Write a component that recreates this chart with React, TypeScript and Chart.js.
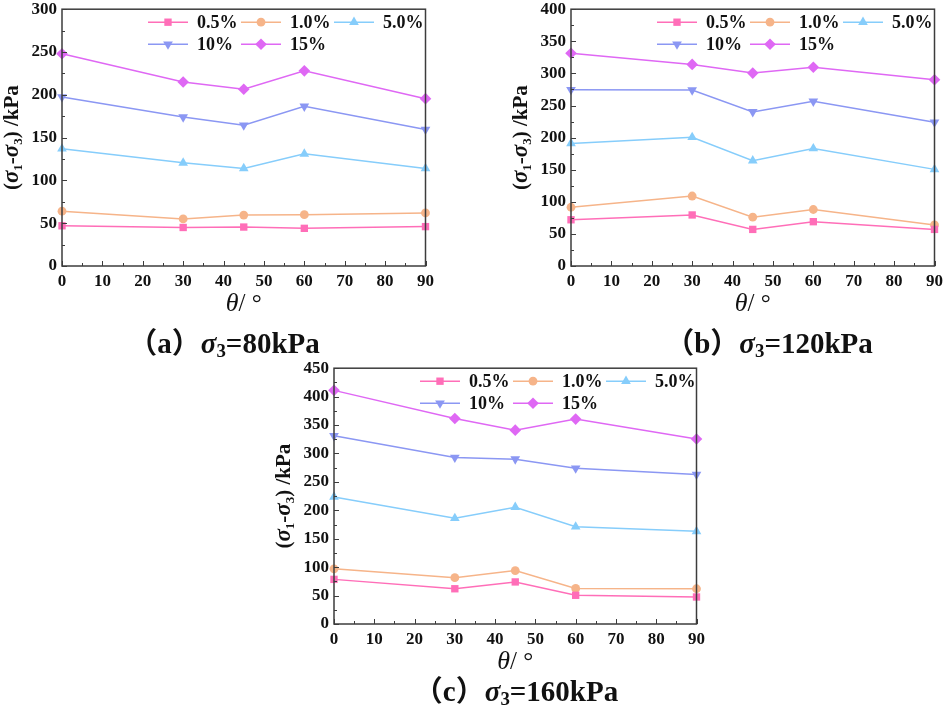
import { useEffect, useRef } from "react"
import { Chart, registerables } from "chart.js"

Chart.register(...registerables)

const FONT = '"Liberation Serif", "Times New Roman", serif'

// loading angle (x axis) and axial strain levels (series)
const theta = [0, 30, 45, 60, 90]
const strainLabels = ["0.5%", "1.0%", "5.0%", "10%", "15%"]

// (a) sigma3 = 80 kPa
const s80_05 = [47, 45, 45.5, 44, 46]
const s80_10 = [64, 55, 59.5, 60, 62]
const s80_50 = [137, 120.5, 114, 131, 114]
const s80_100 = [197.5, 174, 164.5, 186.5, 159.5]
const s80_150 = [248, 215, 206.5, 228, 195.5]

// (b) sigma3 = 120 kPa
const s120_05 = [72, 79.5, 57, 69, 57]
const s120_10 = [91.5, 109, 76, 88, 64]
const s120_50 = [191, 200.5, 164, 183, 150.5]
const s120_100 = [274.5, 274, 240, 256.5, 224]
const s120_150 = [331.5, 314, 300.5, 309.5, 290]

// (c) sigma3 = 160 kPa
const s160_05 = [78.5, 62, 74, 50.5, 47.5]
const s160_10 = [97, 81.5, 94, 62.5, 62]
const s160_50 = [223.5, 186, 205.5, 171, 163]
const s160_100 = [331, 293, 290, 274, 263]
const s160_150 = [411, 361.5, 341, 360.5, 325.5]

const xTicks = [0, 10, 20, 30, 40, 50, 60, 70, 80, 90]

const colors = ["#ff6eb8", "#f6b489", "#86cdfb", "#8b97f3", "#df68f4"]
const pointStyles = ["rect", "circle", "triangle", "triangle", "rectRot"]
const pointRotations = [0, 0, 0, 180, 0]
const pointRadii = [5.2, 4.4, 5.6, 5.6, 5.8]

type Panel = {
  letter: string
  sigma: string
  yMax: number
  series: number[][]
  plot: { left: number; top: number; right: number; bottom: number }
  caption: { x: number; y: number }
}

const panels: Panel[] = [
  {
    letter: "a",
    sigma: "80",
    yMax: 300,
    series: [s80_05, s80_10, s80_50, s80_100, s80_150],
    plot: { left: 62, top: 8, right: 429, bottom: 266 },
    caption: { x: 224, y: 345 },
  },
  {
    letter: "b",
    sigma: "120",
    yMax: 400,
    series: [s120_05, s120_10, s120_50, s120_100, s120_150],
    plot: { left: 571, top: 8, right: 938, bottom: 266 },
    caption: { x: 769, y: 345 },
  },
  {
    letter: "c",
    sigma: "160",
    yMax: 450,
    series: [s160_05, s160_10, s160_50, s160_100, s160_150],
    plot: { left: 334, top: 367, right: 700, bottom: 624 },
    caption: { x: 516, y: 693 },
  },
]

const AXIS_W = 62
const PAD_TOP = 14
const PAD_RIGHT = 10
const AXIS_H = 60

function drawMarker(
  ctx: CanvasRenderingContext2D,
  style: string,
  rotation: number,
  x: number,
  y: number,
  r: number,
  color: string
) {
  ctx.save()
  ctx.translate(x, y)
  ctx.rotate((rotation * Math.PI) / 180)
  ctx.fillStyle = color
  ctx.beginPath()
  if (style === "rect") {
    const s = r * Math.SQRT1_2
    ctx.rect(-s, -s, 2 * s, 2 * s)
  } else if (style === "circle") {
    ctx.arc(0, 0, r, 0, Math.PI * 2)
  } else if (style === "triangle") {
    ctx.moveTo(0, -r)
    ctx.lineTo(r * 0.866, r * 0.5)
    ctx.lineTo(-r * 0.866, r * 0.5)
    ctx.closePath()
  } else {
    ctx.moveTo(0, -r)
    ctx.lineTo(r, 0)
    ctx.lineTo(0, r)
    ctx.lineTo(-r, 0)
    ctx.closePath()
  }
  ctx.fill()
  ctx.restore()
}

type Seg = { t: string; font: string; dy?: number }

function drawRich(ctx: CanvasRenderingContext2D, segs: Seg[], cx: number, baseline: number) {
  let total = 0
  for (const s of segs) {
    ctx.font = s.font
    total += ctx.measureText(s.t).width
  }
  let x = cx - total / 2
  ctx.textAlign = "left"
  ctx.textBaseline = "alphabetic"
  for (const s of segs) {
    ctx.font = s.font
    ctx.fillText(s.t, x, baseline + (s.dy || 0))
    x += ctx.measureText(s.t).width
  }
}

// frame, inward ticks, axis titles and the in-plot legend
const decorPlugin = {
  id: "decor",
  afterDatasetsDraw(chart: any) {
    const { ctx, chartArea: a, scales } = chart
    const xs = scales.x
    const ys = scales.y
    ctx.save()
    ctx.strokeStyle = "#3c3c3c"
    ctx.lineWidth = 1
    for (let v = 0; v <= 90; v += 5) {
      const px = Math.round(xs.getPixelForValue(v)) + 0.5
      const len = v % 10 === 0 ? 5 : 3
      ctx.beginPath()
      ctx.moveTo(px, a.bottom)
      ctx.lineTo(px, a.bottom - len)
      ctx.stroke()
    }
    for (let v = 0; v <= ys.max; v += 25) {
      const py = Math.round(ys.getPixelForValue(v)) + 0.5
      const len = v % 50 === 0 ? 5 : 3
      ctx.beginPath()
      ctx.moveTo(a.left, py)
      ctx.lineTo(a.left + len, py)
      ctx.stroke()
    }
    ctx.lineWidth = 1.5
    ctx.strokeRect(a.left, a.top, a.right - a.left, a.bottom - a.top)

    // legend
    const rows = [
      [0, 1, 2],
      [3, 4],
    ]
    ctx.lineWidth = 1.5
    rows.forEach((row, ri) => {
      const y = a.top + 13 + ri * 22
      row.forEach((di, ci) => {
        const x0 = a.left + 86 + ci * 93
        ctx.strokeStyle = colors[di]
        ctx.beginPath()
        ctx.moveTo(x0, y)
        ctx.lineTo(x0 + 40, y)
        ctx.stroke()
        drawMarker(ctx, pointStyles[di], pointRotations[di], x0 + 20, y, pointRadii[di], colors[di])
        ctx.fillStyle = "#111"
        ctx.font = `bold 18px ${FONT}`
        ctx.textAlign = "left"
        ctx.textBaseline = "middle"
        ctx.fillText(strainLabels[di], x0 + 49, y + 1)
      })
    })

    // x title
    ctx.fillStyle = "#111"
    drawRich(
      ctx,
      [
        { t: "θ", font: `italic 26px ${FONT}` },
        { t: "/ °", font: `25px ${FONT}` },
      ],
      (a.left + a.right) / 2,
      a.bottom + 45
    )

    // y title
    ctx.save()
    ctx.translate(a.left - 51, (a.top + a.bottom) / 2)
    ctx.rotate(-Math.PI / 2)
    const big = `bold 21px ${FONT}`
    const ital = `italic bold 23px ${FONT}`
    const sub = `bold 13px ${FONT}`
    drawRich(
      ctx,
      [
        { t: "(", font: big },
        { t: "σ", font: ital },
        { t: "1", font: sub, dy: 4 },
        { t: "-", font: big },
        { t: "σ", font: ital },
        { t: "3", font: sub, dy: 4 },
        { t: ") /kPa", font: big },
      ],
      0,
      7
    )
    ctx.restore()
    ctx.restore()
  },
}

function ChartPanel({ panel }: { panel: Panel }) {
  const chartRef = useRef<HTMLCanvasElement>(null)
  const { plot } = panel
  const left = plot.left - AXIS_W
  const top = plot.top - PAD_TOP
  const width = plot.right - left + PAD_RIGHT
  const height = plot.bottom - top + AXIS_H

  useEffect(() => {
    if (!chartRef.current) return
    const ctx = chartRef.current.getContext("2d")
    if (!ctx) return

    const tickFont = { family: FONT, size: 17, weight: "bold" as const, lineHeight: 1.2 }

    const chart = new Chart(ctx, {
      type: "line",
      data: {
        datasets: panel.series.map((vals, i) => ({
          label: strainLabels[i],
          data: theta.map((t, j) => ({ x: t, y: vals[j] })),
          borderColor: colors[i],
          backgroundColor: colors[i],
          borderWidth: 1.5,
          pointStyle: pointStyles[i] as any,
          pointRotation: pointRotations[i],
          pointRadius: pointRadii[i],
          pointBorderWidth: 0,
          tension: 0,
          clip: false as any,
        })),
      },
      options: {
        responsive: false,
        animation: false,
        layout: { padding: { top: PAD_TOP, right: PAD_RIGHT, left: 0, bottom: 0 } },
        plugins: {
          legend: { display: false },
          tooltip: { enabled: false },
        },
        scales: {
          x: {
            type: "linear",
            min: 0,
            max: 90,
            afterBuildTicks: (s: any) => {
              s.ticks = xTicks.map((v) => ({ value: v }))
            },
            afterFit: (s: any) => {
              s.height = AXIS_H
            },
            ticks: { font: tickFont, color: "#111", padding: 5, maxRotation: 0, autoSkip: false },
            grid: { display: false, drawTicks: false },
            border: { display: false },
          },
          y: {
            type: "linear",
            min: 0,
            max: panel.yMax,
            ticks: { stepSize: 50, font: tickFont, color: "#111", padding: 5 },
            afterFit: (s: any) => {
              s.width = AXIS_W
            },
            grid: { display: false, drawTicks: false },
            border: { display: false },
          },
        },
      },
      plugins: [decorPlugin],
    })

    return () => {
      chart.destroy()
    }
  }, [panel])

  return (
    <div style={{ position: "absolute", left, top, width, height }}>
      <canvas ref={chartRef} width={width} height={height} style={{ width, height }} />
    </div>
  )
}

function Caption({ panel }: { panel: Panel }) {
  return (
    <div
      style={{
        position: "absolute",
        left: panel.caption.x,
        top: panel.caption.y,
        transform: "translate(-50%, -50%)",
        whiteSpace: "nowrap",
        fontFamily: `${FONT}, "Noto Sans CJK SC"`,
        fontWeight: "bold",
        fontSize: 29,
        lineHeight: 1,
        color: "#111",
      }}
    >
      （{panel.letter}）<i>σ</i>
      <sub style={{ fontSize: "0.65em", verticalAlign: "-0.25em" }}>3</sub>={panel.sigma}kPa
    </div>
  )
}

export default function App() {
  return (
    <div
      style={{
        position: "fixed",
        left: 0,
        top: 0,
        width: 948,
        height: 711,
        background: "#fff",
        overflow: "hidden",
      }}
    >
      {panels.map((p) => (
        <ChartPanel key={p.letter} panel={p} />
      ))}
      {panels.map((p) => (
        <Caption key={"c" + p.letter} panel={p} />
      ))}
    </div>
  )
}
